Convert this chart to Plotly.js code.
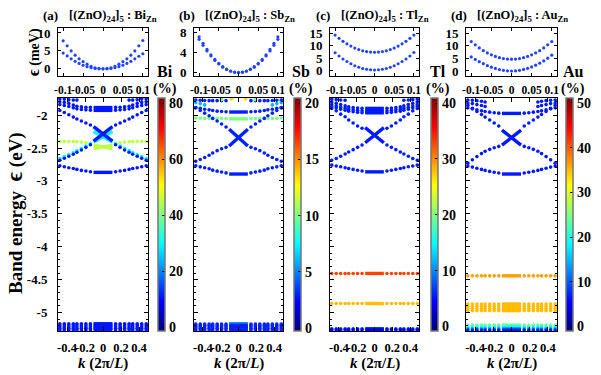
<!DOCTYPE html>
<html>
<head>
<meta charset="utf-8">
<script src="https://cdn.plot.ly/plotly-3.0.1.min.js"></script>
<style>body{margin:0;background:#fff}</style>
</head>
<body>
<div id="chart" style="width:601px;height:375px"></div>
<script>
// k points of the coarse grid, the dense core segment and the insets
const kOuter = [-0.48,-0.43,-0.38,-0.33,-0.29,-0.24,-0.19,-0.14,0.14,0.19,0.24,0.29,0.33,0.38,0.43,0.48];
const kCore = [-0.105, 0.105];
const kInset = [-0.1,-0.09,-0.08,-0.07,-0.06,-0.05,-0.04,-0.03,-0.02,-0.01,0,0.01,0.02,0.03,0.04,0.05,0.06,0.07,0.08,0.09,0.1];

const kTicks = [-0.4,-0.2,0,0.2,0.4];
const kTickText = ["-0.4","-0.2","0","0.2","0.4"];
const eTicks = [-5,-4.5,-4,-3.5,-3,-2.5,-2];
const eTickText = ["-5","-4.5","-4","-3.5","-3","-2.5","-2"];
const insetTicks = [-0.1,-0.05,0,0.05,0.1];
const insetTickText = ["-0.1","-0.05","0","0.05","0.1"];

const dopants = ["Bi","Sb","Tl","Au"];
const panelTags = ["(a)","(b)","(c)","(d)"];

// (a) Bi : band energies (eV) on kOuter, and the % weight of each band
const aBands = [
  [-1.757,-1.757,-1.767,-1.772,-1.772,null,null,null,null,null,null,-1.772,-1.772,-1.767,-1.757,-1.757],
  [-1.798,-1.807,-1.822,-1.848,-1.865,-1.875,-1.880,-1.883,-1.883,-1.880,-1.875,-1.865,-1.848,-1.822,-1.807,-1.798],
  [-1.840,-1.855,-1.870,-1.890,-1.905,-1.915,-1.920,-1.925,-1.925,-1.920,-1.915,-1.905,-1.890,-1.870,-1.855,-1.840],
  [-1.930,-1.960,-1.995,-2.030,-2.060,-2.090,-2.120,-2.150,-2.150,-2.120,-2.090,-2.060,-2.030,-1.995,-1.960,-1.930],
  [-2.400,-2.400,-2.400,-2.400,-2.405,-2.410,-2.420,-2.430,-2.430,-2.420,-2.410,-2.405,-2.400,-2.400,-2.400,-2.400],
  [-2.660,-2.630,-2.600,-2.570,-2.540,-2.505,-2.470,-2.435,-2.435,-2.470,-2.505,-2.540,-2.570,-2.600,-2.630,-2.660],
  [-2.685,-2.655,-2.625,-2.595,-2.565,-2.530,-2.490,-2.450,-2.450,-2.490,-2.530,-2.565,-2.595,-2.625,-2.655,-2.685],
  [-2.770,-2.785,-2.800,-2.810,-2.825,-2.840,-2.850,-2.860,-2.860,-2.850,-2.840,-2.825,-2.810,-2.800,-2.785,-2.770],
  [-5.170,-5.170,-5.170,-5.170,-5.170,-5.170,-5.170,-5.170,-5.170,-5.170,-5.170,-5.170,-5.170,-5.170,-5.170,-5.170],
  [-5.190,-5.190,-5.190,-5.190,-5.190,-5.190,-5.190,-5.190,-5.190,-5.190,-5.190,-5.190,-5.190,-5.190,-5.190,-5.190],
  [-5.215,-5.215,-5.215,-5.215,-5.215,-5.215,-5.215,-5.215,-5.215,-5.215,-5.215,-5.215,-5.215,-5.215,-5.215,-5.215],
  [-5.240,-5.240,-5.240,-5.240,-5.240,-5.240,-5.240,-5.240,-5.240,-5.240,-5.240,-5.240,-5.240,-5.240,-5.240,-5.240],
  [-5.262,-5.262,-5.262,-5.262,-5.262,-5.262,-5.262,-5.262,-5.262,-5.262,-5.262,-5.262,-5.262,-5.262,-5.262,-5.262]
];
const aPct = [11,11,11,11,45,30,11,11,11,11,11,11,11];
const aCore = [[-1.885,-1.885],[-1.928,-1.928],[-2.25,-2.41],[-2.41,-2.25],[-2.175,-2.395],[-2.395,-2.175],
  [-2.455,-2.51],[-2.51,-2.455],[-2.87,-2.87],[-5.17,-5.17],[-5.19,-5.19],[-5.215,-5.215],[-5.24,-5.24],[-5.262,-5.262]];
const aCorePct = [11,11,30,30,11,11,45,45,11,11,11,11,11,11];
const aInsetUp = [7.8,6.4,5.0,3.8,2.8,2.0,1.3,0.7,0.3,0.1,0,0.1,0.3,0.7,1.3,2.0,2.8,3.8,5.0,6.4,7.9];
const aInsetLo = [4.4,3.6,2.8,2.1,1.5,1.0,0.6,0.3,0.1,0,0,0,0.1,0.3,0.6,1.0,1.5,2.1,2.8,3.5,4.2];

// (b) Sb
const bBands = [
  [-1.770,-1.775,-1.778,-1.780,-1.780,-1.780,-1.780,-1.780,-1.780,-1.780,-1.780,-1.780,-1.780,-1.778,-1.775,-1.770],
  [null,null,null,null,null,null,-1.765,null,null,-1.765,null,null,null,null,null,null],
  [-1.810,-1.825,-1.845,null,null,null,null,null,null,null,null,null,null,-1.845,-1.825,-1.810],
  [-1.885,-1.895,-1.910,-1.920,-1.930,-1.940,-1.945,-1.950,-1.950,-1.945,-1.940,-1.930,-1.920,-1.910,-1.895,-1.885],
  [-2.045,-2.047,-2.050,-2.050,-2.050,-2.050,-2.052,-2.053,-2.053,-2.052,-2.050,-2.050,-2.050,-2.050,-2.047,-2.045],
  [-1.890,-1.930,-1.970,-2.010,-2.050,-2.090,-2.135,-2.180,-2.180,-2.135,-2.090,-2.050,-2.010,-1.970,-1.930,-1.890],
  [-2.700,-2.675,-2.645,-2.610,-2.575,-2.540,-2.510,-2.490,-2.490,-2.510,-2.540,-2.575,-2.610,-2.645,-2.675,-2.700],
  [-2.770,-2.786,-2.800,-2.816,-2.836,-2.851,-2.865,-2.878,-2.878,-2.865,-2.851,-2.836,-2.816,-2.800,-2.786,-2.770],
  [-5.175,-5.175,-5.175,-5.175,-5.175,-5.175,-5.175,-5.175,-5.175,-5.175,-5.175,-5.175,-5.175,-5.175,-5.175,-5.175],
  [-5.195,-5.195,-5.195,-5.195,-5.195,-5.195,-5.195,-5.195,-5.195,-5.195,-5.195,-5.195,-5.195,-5.195,-5.195,-5.195],
  [-5.215,-5.215,-5.215,-5.215,-5.215,-5.215,-5.215,-5.215,-5.215,-5.215,-5.215,-5.215,-5.215,-5.215,-5.215,-5.215],
  [-5.240,-5.240,-5.240,-5.240,-5.240,-5.240,-5.240,-5.240,-5.240,-5.240,-5.240,-5.240,-5.240,-5.240,-5.240,-5.240],
  [-5.262,-5.262,-5.262,-5.262,-5.262,-5.262,-5.262,-5.262,-5.262,-5.262,-5.262,-5.262,-5.262,-5.262,-5.262,-5.262]
];
const bPct = [3,10,6,3,10,3,3,3,3,3,3,3,3];
const bCore = [[-1.953,-1.953],[-2.057,-2.057],[-2.215,-2.47],[-2.47,-2.215],[-2.895,-2.895],
  [-5.17,-5.17],[-5.195,-5.195],[-5.215,-5.215],[-5.24,-5.24],[-5.262,-5.262]];
const bCorePct = [3,10,3,3,3,5,3,3,3,3];
const bTopK = [-0.08,0.08];
const bTopE = [-1.755,-1.755];
const bTopPct = [13.5,13.5];
const bInsetUp = [7.1,5.8,4.6,3.5,2.6,1.8,1.15,0.65,0.3,0.08,0,0.08,0.3,0.65,1.15,1.8,2.6,3.5,4.6,5.8,7.1];
const bInsetLo = [6.6,5.4,4.3,3.3,2.4,1.7,1.05,0.6,0.25,0.05,0,0.05,0.25,0.6,1.05,1.7,2.4,3.3,4.3,5.4,6.6];

// (c) Tl
const cBands = [
  [-1.760,-1.765,-1.770,-1.775,null,null,null,null,null,null,null,null,-1.775,-1.770,-1.765,-1.760],
  [-1.800,-1.820,-1.840,-1.860,-1.875,-1.885,-1.892,-1.896,-1.896,-1.892,-1.885,-1.875,-1.860,-1.840,-1.820,-1.800],
  [-1.840,-1.860,-1.880,-1.895,-1.910,-1.920,-1.928,-1.933,-1.933,-1.928,-1.920,-1.910,-1.895,-1.880,-1.860,-1.840],
  [-1.870,-1.890,-1.910,-1.925,-1.940,-1.950,-1.958,-1.963,-1.963,-1.958,-1.950,-1.940,-1.925,-1.910,-1.890,-1.870],
  [-1.900,-1.935,-1.985,-2.025,-2.075,-2.120,-2.165,-2.200,-2.200,-2.165,-2.120,-2.075,-2.025,-1.985,-1.935,-1.900],
  [-2.685,-2.660,-2.625,-2.590,-2.560,-2.525,-2.490,-2.455,-2.455,-2.490,-2.525,-2.560,-2.590,-2.625,-2.660,-2.685],
  [-2.760,-2.772,-2.785,-2.800,-2.812,-2.825,-2.838,-2.850,-2.850,-2.838,-2.825,-2.812,-2.800,-2.785,-2.772,-2.760],
  [-4.406,-4.406,-4.406,-4.406,-4.406,-4.406,-4.406,-4.406,-4.406,-4.406,-4.406,-4.406,-4.406,-4.406,-4.406,-4.406],
  [-4.862,-4.862,-4.862,-4.862,-4.862,-4.862,-4.862,-4.862,-4.862,-4.862,-4.862,-4.862,-4.862,-4.862,-4.862,-4.862],
  [-5.245,-5.245,-5.245,-5.245,-5.245,-5.245,-5.245,-5.245,-5.245,-5.245,-5.245,-5.245,-5.245,-5.245,-5.245,-5.245],
  [-5.262,-5.262,-5.262,-5.262,-5.262,-5.262,-5.262,-5.262,-5.262,-5.262,-5.262,-5.262,-5.262,-5.262,-5.262,-5.262]
];
const cPct = [5.5,5.5,5.5,5.5,5.5,5.5,5.5,33,28,7,4];
const cCore = [[-1.898,-1.898],[-1.935,-1.935],[-1.965,-1.965],[-2.19,-2.42],[-2.42,-2.19],[-2.862,-2.862],
  [-4.406,-4.406],[-4.862,-4.862],[-5.245,-5.245],[-5.262,-5.262]];
const cCorePct = [5.5,5.5,5.5,5.5,5.5,5.5,33,28,7,4];
const cInsetUp = [14.3,13.0,11.8,10.8,9.9,9.1,8.5,8.0,7.7,7.5,7.4,7.5,7.7,8.0,8.5,9.1,9.9,10.8,11.8,13.0,14.3];
const cInsetLo = [7.2,5.9,4.7,3.7,2.8,2.0,1.4,0.9,0.6,0.4,0.3,0.4,0.6,0.9,1.4,2.0,2.8,3.7,4.7,5.9,7.3];

// (d) Au
const dBands = [
  [-1.770,-1.775,-1.780,-1.790,-1.800,null,null,null,null,null,null,-1.800,-1.790,-1.780,-1.775,-1.770],
  [-1.815,-1.825,-1.840,-1.855,-1.870,null,null,null,null,null,null,-1.870,-1.855,-1.840,-1.825,-1.815],
  [-1.890,-1.905,-1.920,-1.935,-1.945,-1.955,-1.965,-1.970,-1.970,-1.965,-1.955,-1.945,-1.935,-1.920,-1.905,-1.890],
  [-1.850,-1.895,-1.945,-1.990,-2.030,-2.075,-2.120,-2.165,-2.165,-2.120,-2.075,-2.030,-1.990,-1.945,-1.895,-1.850],
  [-2.730,-2.680,-2.630,-2.585,-2.550,-2.520,-2.495,-2.475,-2.475,-2.495,-2.520,-2.550,-2.585,-2.630,-2.680,-2.730],
  [-2.775,-2.790,-2.808,-2.825,-2.840,-2.855,-2.868,-2.880,-2.880,-2.868,-2.855,-2.840,-2.825,-2.808,-2.790,-2.775],
  [-4.442,-4.442,-4.442,-4.442,-4.442,-4.442,-4.442,-4.442,-4.442,-4.442,-4.442,-4.442,-4.442,-4.442,-4.442,-4.442],
  [-4.870,-4.870,-4.870,-4.870,-4.870,-4.870,-4.870,-4.870,-4.870,-4.870,-4.870,-4.870,-4.870,-4.870,-4.870,-4.870],
  [-4.905,-4.905,-4.905,-4.905,-4.905,-4.905,-4.905,-4.905,-4.905,-4.905,-4.905,-4.905,-4.905,-4.905,-4.905,-4.905],
  [-4.940,-4.940,-4.940,-4.940,-4.940,-4.940,-4.940,-4.940,-4.940,-4.940,-4.940,-4.940,-4.940,-4.940,-4.940,-4.940],
  [-4.970,-4.970,-4.970,-4.970,-4.970,-4.970,-4.970,-4.970,-4.970,-4.970,-4.970,-4.970,-4.970,-4.970,-4.970,-4.970],
  [-5.191,-5.191,-5.191,-5.191,-5.191,-5.191,-5.191,-5.191,-5.191,-5.191,-5.191,-5.191,-5.191,-5.191,-5.191,-5.191],
  [-5.222,-5.222,-5.222,-5.222,-5.222,-5.222,-5.222,-5.222,-5.222,-5.222,-5.222,-5.222,-5.222,-5.222,-5.222,-5.222],
  [-5.245,-5.245,-5.245,-5.245,-5.245,-5.245,-5.245,-5.245,-5.245,-5.245,-5.245,-5.245,-5.245,-5.245,-5.245,-5.245],
  [-5.265,-5.265,-5.265,-5.265,-5.265,-5.265,-5.265,-5.265,-5.265,-5.265,-5.265,-5.265,-5.265,-5.265,-5.265,-5.265]
];
const dPct = [6.8,6.8,6.8,6.8,6.8,6.8,36.5,35,35,35,35,24,19,14,7];
const dCore = [[-1.974,-1.974],[-2.228,-2.456],[-2.456,-2.228],[-2.895,-2.895],[-4.442,-4.442],
  [-4.87,-4.87],[-4.905,-4.905],[-4.94,-4.94],[-4.97,-4.97],[-5.191,-5.191],[-5.222,-5.222],[-5.245,-5.245],[-5.265,-5.265]];
const dCorePct = [6.8,6.8,6.8,6.8,36.5,35,35,35,35,24,19,14,7];
const dInsetUp = [11.7,10.4,9.2,8.1,7.2,6.45,5.8,5.3,4.95,4.75,4.7,4.75,4.95,5.3,5.8,6.45,7.2,8.1,9.2,10.4,11.7];
const dInsetLo = [5.6,4.6,3.7,2.9,2.1,1.5,1.0,0.55,0.25,0.05,0,0.05,0.25,0.6,1.05,1.6,2.3,3.1,4.0,5.1,6.3];

// colour bar ranges and ticks (%)
const cbRanges = [[-1.3,81.8],[-0.25,20.45],[-0.8,40.9],[-1,51.1]];
const cbTicks = [[0,20,40,60,80],[0,5,10,15,20],[0,10,20,30,40],[0,10,20,30,40,50]];
const insetRanges = [[-2,11.3],[-0.7,8.8],[-2.1,17],[-2,17]];
const insetYTicks = [[0,5,10],[0,4,8],[0,5,10,15],[0,5,10,15]];

const panels = [
  {bands:aBands, pct:aPct, core:aCore, corePct:aCorePct, up:aInsetUp, lo:aInsetLo},
  {bands:bBands, pct:bPct, core:bCore, corePct:bCorePct, up:bInsetUp, lo:bInsetLo},
  {bands:cBands, pct:cPct, core:cCore, corePct:cCorePct, up:cInsetUp, lo:cInsetLo},
  {bands:dBands, pct:dPct, core:dCore, corePct:dCorePct, up:dInsetUp, lo:dInsetLo}
];

// ---- layout geometry (pixels) ----
const W = 601, H = 375;
const px = x => x / W;
const py = y => 1 - y / H;
const panelX = [[58,148],[194,283],[330,419],[466,557]];
const cbarX = [158,294,431,566];
const mainTop = 98, mainBot = 331, insetTop = 28.3, insetBot = 76;
const FONT = "Liberation Serif, Times New Roman, serif";

const jet = [[0,"#000080"],[0.125,"#0000ff"],[0.375,"#00ffff"],[0.625,"#ffff00"],[0.875,"#ff0000"],[1,"#800000"]];
const INSET_BLUE = "#2244ff";

function hexRgb(h){ return [parseInt(h.slice(1,3),16),parseInt(h.slice(3,5),16),parseInt(h.slice(5,7),16)]; }
function jetColor(v, lo, hi){
  let t = Math.max(0, Math.min(1, (v - lo) / (hi - lo)));
  for (let i = 1; i < jet.length; i++){
    if (t <= jet[i][0]){
      const a = hexRgb(jet[i-1][1]), b = hexRgb(jet[i][1]);
      const f = (t - jet[i-1][0]) / (jet[i][0] - jet[i-1][0]);
      return "rgb(" + a.map((c,j) => Math.round(c + (b[j]-c)*f)).join(",") + ")";
    }
  }
  return jet[jet.length-1][1];
}

function note(text, x, y, size, extra){
  return Object.assign({text:"<b>" + text + "</b>", x:px(x), y:py(y), xref:"paper", yref:"paper",
    xanchor:"center", yanchor:"middle", showarrow:false, font:{family:FONT, size:size, color:"#000"}}, extra || {});
}

const traces = [];
const layout = {
  width: W, height: H,
  margin: {l:0, r:0, t:0, b:0},
  paper_bgcolor: "#fff", plot_bgcolor: "#fff",
  showlegend: false,
  font: {family: FONT, size: 12, color: "#000", weight: 700},
  annotations: []
};

function axisBase(){
  return {showline:true, linecolor:"#000", linewidth:1, mirror:"allticks", ticks:"inside",
    ticklen:4, tickcolor:"#000", showgrid:false, zeroline:false, fixedrange:true, tickangle:0,
    tickfont:{family:FONT, size:13, weight:700}};
}
const bold = arr => arr.map(t => "<b>" + t + "</b>");

panels.forEach((p, i) => {
  const n = i + 1, m = i + 5;
  const cax = i === 0 ? "coloraxis" : "coloraxis" + n;
  const [lo, hi] = cbRanges[i];

  // coarse dots
  const xs = [], ys = [], cs = [];
  p.bands.forEach((band, b) => {
    band.forEach((e, j) => {
      if (e !== null){ xs.push(kOuter[j]); ys.push(e); cs.push(p.pct[b]); }
    });
  });
  if (i === 1){
    bTopK.forEach((k, j) => { xs.push(k); ys.push(bTopE[j]); cs.push(bTopPct[j]); });
  }
  traces.push({type:"scatter", mode:"markers", x:xs, y:ys, xaxis:"x"+n, yaxis:"y"+n,
    marker:{size:3.6, color:cs, coloraxis:cax}, hoverinfo:"skip", cliponaxis:true});

  // dense segments around k = 0
  p.core.forEach((seg, s) => {
    traces.push({type:"scatter", mode:"lines", x:kCore, y:seg, xaxis:"x"+n, yaxis:"y"+n,
      line:{color:jetColor(p.corePct[s], lo, hi), width:3.4}, hoverinfo:"skip"});
  });

  // inset
  [p.up, p.lo].forEach(curve => {
    traces.push({type:"scatter", mode:"markers", x:kInset, y:curve, xaxis:"x"+m, yaxis:"y"+m,
      marker:{size:3.2, color:INSET_BLUE}, hoverinfo:"skip"});
  });

  const dom = [px(panelX[i][0]), px(panelX[i][1])];
  layout["xaxis"+n] = Object.assign(axisBase(), {domain:dom, anchor:"y"+n, range:[-0.5,0.5],
    tickmode:"array", tickvals:kTicks, ticktext:bold(kTickText), ticklabelstandoff:5,
    tickfont:{family:FONT, size:12.5, weight:700}});
  layout["yaxis"+n] = Object.assign(axisBase(), {domain:[py(mainBot), py(mainTop)], anchor:"x"+n,
    range:[-5.28,-1.74], tickmode:"array", tickvals:eTicks, ticktext:bold(eTickText),
    showticklabels:i === 0, ticklabelstandoff:7,
    minor:{tick0:-5, dtick:0.1, ticks:"inside", ticklen:2, tickcolor:"#000"}});
  layout["xaxis"+m] = Object.assign(axisBase(), {domain:dom, anchor:"y"+m, range:[-0.113,0.113],
    tickmode:"array", tickvals:insetTicks, ticktext:bold(insetTickText), ticklen:3, ticklabelstandoff:3,
    tickfont:{family:FONT, size:11.5, weight:700}});
  layout["yaxis"+m] = Object.assign(axisBase(), {domain:[py(insetBot), py(insetTop)], anchor:"x"+m,
    range:insetRanges[i], tickmode:"array", tickvals:insetYTicks[i], ticktext:bold(insetYTicks[i]),
    ticklen:3, ticklabelstandoff:4});

  layout[cax] = {cmin:lo, cmax:hi, colorscale:jet, showscale:true,
    colorbar:{x:px(cbarX[i]), xanchor:"left", xref:"paper", y:py(mainBot), yanchor:"bottom", yref:"paper",
      len:(mainBot - mainTop) / H, lenmode:"fraction", thickness:7, thicknessmode:"pixels",
      outlinecolor:"#777", outlinewidth:1.5, xpad:0, ypad:0,
      tickmode:"array", tickvals:cbTicks[i], ticktext:bold(cbTicks[i]), ticks:"inside", ticklen:3, tickcolor:"#000",
      tickfont:{family:FONT, size:14, weight:700}}};

  // panel heading, colour-bar label, k axis title
  const cx = (panelX[i][0] + panelX[i][1]) / 2;
  layout.annotations.push(
    note(panelTags[i], panelX[i][0] - 7, 16, 13),
    note("[(ZnO)<sub>24</sub>]<sub>5</sub> : " + dopants[i] + "<sub>Zn</sub>", panelX[i][0] + 9, 16, 12.5, {xanchor:"left"}),
    note(dopants[i], cbarX[i] + 7, 72, 16),
    note("(%)", cbarX[i] + 7, 89, 14),
    note("<i>k</i> (2π/<i>L</i>)", cx, 363, 15)
  );
});

layout.annotations.push(
  note("Band energy  <span style='font-size:23px'>ϵ</span> (eV)", 15, 213, 19, {textangle:-90}),
  note("<span style='font-size:16px'>ϵ</span> (meV)", 34, 52, 14, {textangle:-90})
);

Plotly.newPlot("chart", traces, layout, {displayModeBar:false, staticPlot:true});
</script>
</body>
</html>
